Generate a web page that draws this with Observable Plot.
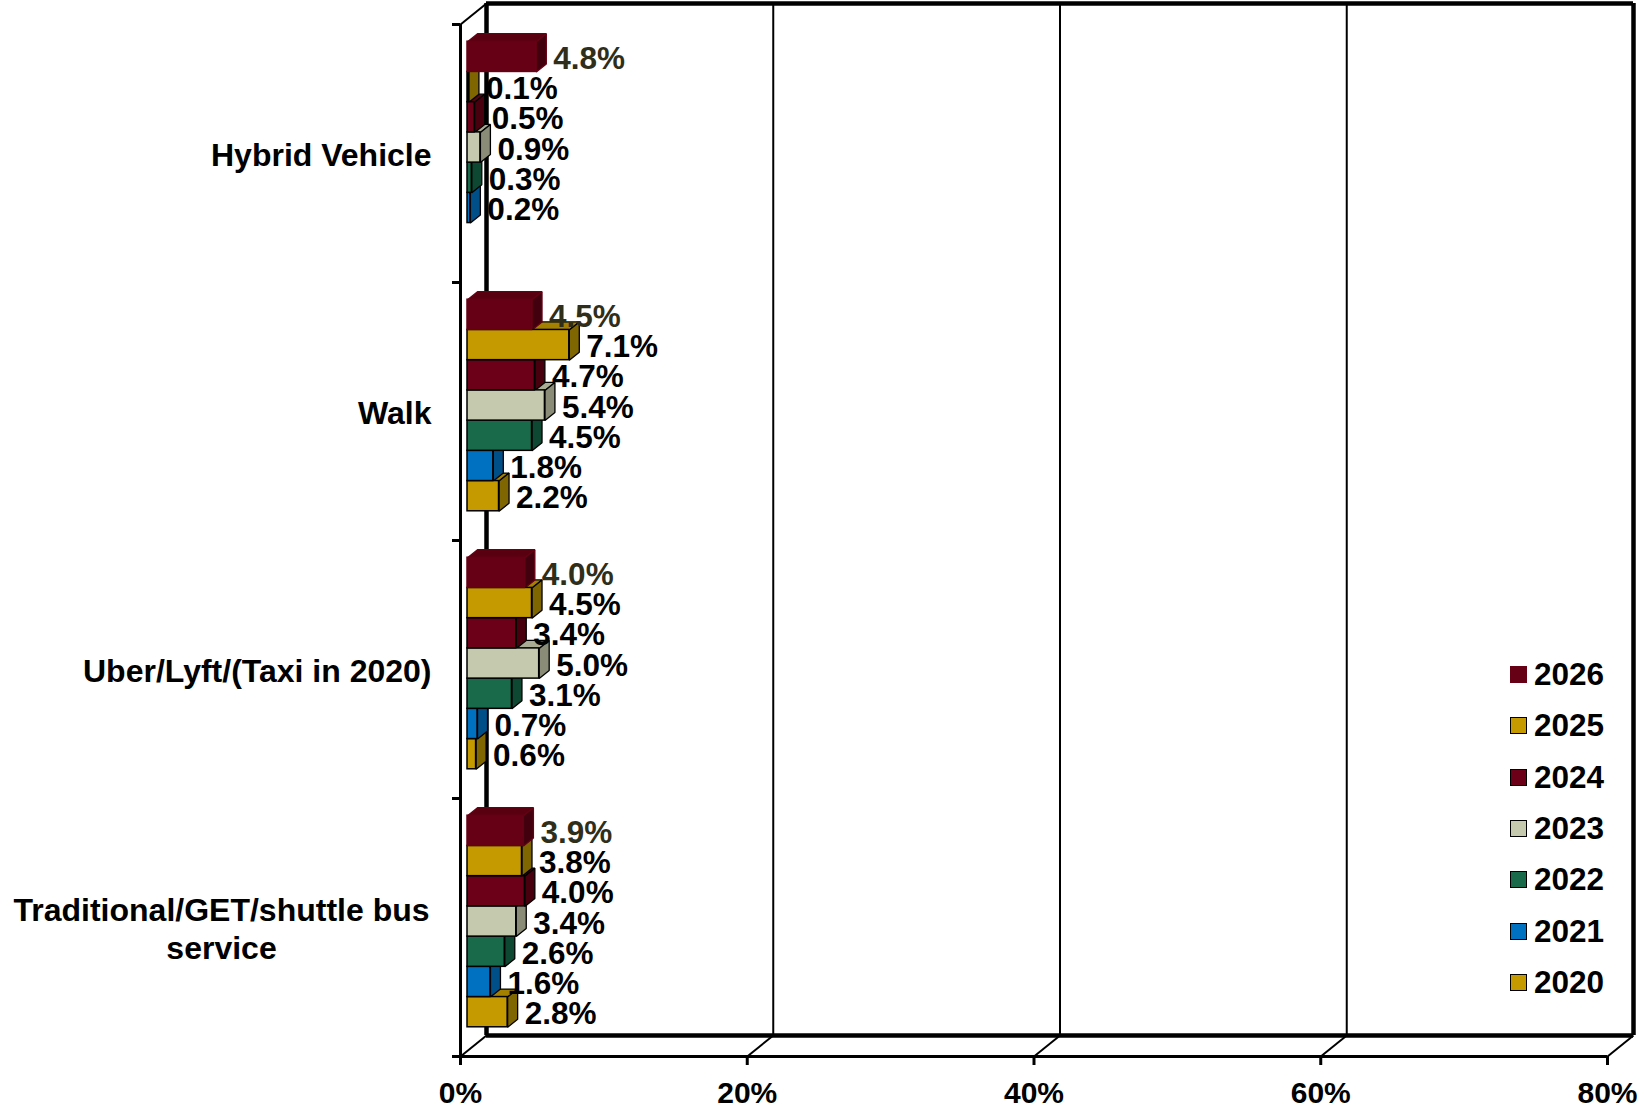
<!DOCTYPE html>
<html>
<head>
<meta charset="utf-8">
<script src="https://cdn.jsdelivr.net/npm/d3@7"></script>
<script src="https://cdn.jsdelivr.net/npm/@observablehq/plot@0.6"></script>
<style>
  html, body { margin: 0; padding: 0; background: #fff; }
  #wrap { position: relative; width: 1650px; height: 1109px; font-family: "Liberation Sans", Arial, sans-serif; }
  #legend { position: absolute; left: 1510px; top: 649px; font-weight: bold; font-size: 31.5px; color: #000; }
  #legend .row { display: flex; align-items: center; height: 51.3px; }
  #legend .sw { width: 15px; height: 15px; border: 1.5px solid #000; margin-right: 7px; }
</style>
</head>
<body>
<div id="wrap"><div id="chart"></div><div id="legend"></div></div>
<script>
// ---- data ----
const categories = ["Hybrid Vehicle", "Walk", "Uber/Lyft/(Taxi in 2020)", "Traditional/GET/shuttle bus\nservice"];
const years = ["2026", "2025", "2024", "2023", "2022", "2021", "2020"];
const v2026 = [4.8, 4.5, 4.0, 3.9];
const v2025 = [0.1, 7.1, 4.5, 3.8];
const v2024 = [0.5, 4.7, 3.4, 4.0];
const v2023 = [0.9, 5.4, 5.0, 3.4];
const v2022 = [0.3, 4.5, 3.1, 2.6];
const v2021 = [0.2, 1.8, 0.7, 1.6];
const v2020 = [null, 2.2, 0.6, 2.8];
const xTicks = [0, 20, 40, 60, 80];

// ---- styles ----
const seriesValues = [v2026, v2025, v2024, v2023, v2022, v2021, v2020];
const front = ["#650015", "#c49a00", "#6b0018", "#c5c9ad", "#196a4b", "#0070c0", "#c49a00"];
const side  = ["#42000e", "#806600", "#48000f", "#8a8c77", "#0f4832", "#004f88", "#806600"];
const top_  = ["#58000f", "#a38000", "#5a0014", "#a9ac93", "#145a3f", "#005fa2", "#a38000"];
const edge  = ["#650015", "#000", "#000", "#000", "#000", "#000", "#000"];

// layout
const X0 = 460, X80 = 1607, YT = 24, YB = 1056;
const ppx = (X80 - X0) / 80, ppy = (YB - YT) / 4;
const wallDX = 26, wallDY = -21;        // back wall depth (px)
const barDX = 10, barDY = -8;           // bar depth (px)
const barOX = 7, barOY = -6;            // bar position within depth (px)
const pad = 0.09, slotH = (1 - 2 * pad) / 7;

const bdx = barDX / ppx, bdy = barDY / ppy;

const rows = [];
categories.forEach((c, i) => {
  years.forEach((yr, j) => {
    const v = seriesValues[j][i];
    if (v == null) return;
    const y1 = i + pad + j * slotH;
    rows.push({i, j, yr, v, y1, y2: y1 + slotH, yc: y1 + slotH / 2});
  });
});
rows.sort((a, b) => b.j - a.j); // bottom bars drawn first

const topPts = [], sidePts = [];
rows.forEach((d, k) => {
  const id = k;
  topPts.push(
    {id, j: d.j, x: 0, y: d.y1},
    {id, j: d.j, x: d.v, y: d.y1},
    {id, j: d.j, x: d.v + bdx, y: d.y1 + bdy},
    {id, j: d.j, x: bdx, y: d.y1 + bdy});
  sidePts.push(
    {id, j: d.j, x: d.v, y: d.y1},
    {id, j: d.j, x: d.v, y: d.y2},
    {id, j: d.j, x: d.v + bdx, y: d.y2 + bdy},
    {id, j: d.j, x: d.v + bdx, y: d.y1 + bdy});
});

const wdx = wallDX / ppx, wdy = wallDY / ppy;
const diag = [
  {x1: 0, y1: 0, x2: wdx, y2: wdy},
  ...xTicks.map(t => ({x1: t, y1: 4, x2: t + wdx, y2: 4 + wdy}))
];

const catRows = categories.map((c, i) => ({c, i, y: i + 0.5, multi: c.includes("\n")}));

const chart = Plot.plot({
  width: 1650,
  height: 1109,
  marginLeft: X0, marginRight: 1650 - X80, marginTop: YT, marginBottom: 1109 - YB,
  x: {domain: [0, 80], range: [X0, X80]},
  y: {domain: [0, 4], range: [YT, YB]},
  color: {type: "identity"},
  style: {fontFamily: "'Liberation Sans', Arial, sans-serif", fontWeight: "bold", fontSize: "31px", background: "#fff", color: "#000", overflow: "visible"},
  marks: [
    // back wall
    Plot.ruleX([20, 40, 60], {x: d => d, y1: 0, y2: 4, dx: wallDX, dy: wallDY, stroke: "#000", strokeWidth: 2}),
    Plot.ruleX([0, 80], {x: d => d, y1: 0, y2: 4, dx: wallDX, dy: wallDY, stroke: "#000", strokeWidth: 4.5}),
    Plot.ruleY([0, 4], {y: d => d, x1: 0, x2: 80, dx: wallDX, dy: wallDY, stroke: "#000", strokeWidth: 4.5}),
    // depth connectors
    Plot.link(diag, {x1: "x1", y1: "y1", x2: "x2", y2: "y2", stroke: "#000", strokeWidth: 2}),
    // front axes
    Plot.ruleX([0], {y1: 0, y2: 4, stroke: "#000", strokeWidth: 3}),
    Plot.ruleY([4], {x1: 0, x2: 80, stroke: "#000", strokeWidth: 3}),
    Plot.axisY({ticks: [0, 1, 2, 3, 4], tickSize: 8, tickFormat: () => "", label: null, strokeWidth: 3}),
    Plot.axisX({ticks: xTicks, tickSize: 9, tickPadding: 16, tickFormat: d => d + "%", label: null,
      strokeWidth: 3, fontSize: 30, fontWeight: "bold"}),
    // bars: top faces, side faces, front faces
    Plot.line(topPts, {x: "x", y: "y", z: "id", curve: "linear-closed", fill: d => top_[d.j], stroke: d => edge[d.j],
      strokeWidth: 1.3, strokeLinejoin: "miter", dx: barOX, dy: barOY}),
    Plot.line(sidePts, {x: "x", y: "y", z: "id", curve: "linear-closed", fill: d => side[d.j], stroke: d => edge[d.j],
      strokeWidth: 1.3, strokeLinejoin: "miter", dx: barOX, dy: barOY}),
    Plot.rect(rows, {x1: 0, x2: "v", y1: "y1", y2: "y2", fill: d => front[d.j], stroke: d => edge[d.j],
      strokeWidth: 1.5, dx: barOX, dy: barOY}),
    // value labels
    Plot.text(rows, {x: "v", y: "yc", text: d => d.v.toFixed(1) + "%", textAnchor: "start", dx: 24, dy: -4,
      fill: d => d.j === 0 ? "#2f2e1a" : "#000", fontSize: 31.5, fontWeight: "bold"}),
    // category labels
    Plot.text(catRows.filter(d => !d.multi), {x: 0, y: "y", text: "c", textAnchor: "end", dx: -29, dy: 2,
      fontSize: 32, fontWeight: "bold", fill: "#000"}),
    Plot.text(catRows.filter(d => d.multi), {x: 0, y: "y", text: "c", textAnchor: "middle", dx: -239, dy: 0,
      lineHeight: 1.2, fontSize: 32, fontWeight: "bold", fill: "#000"})
  ]
});
document.getElementById("chart").appendChild(chart);

// legend (HTML)
const legend = document.getElementById("legend");
years.forEach((yr, j) => {
  const row = document.createElement("div");
  row.className = "row";
  const sw = document.createElement("div");
  sw.className = "sw";
  sw.style.background = front[j];
  if (j === 0) sw.style.borderColor = front[j];
  const t = document.createElement("span");
  t.textContent = yr;
  row.appendChild(sw);
  row.appendChild(t);
  legend.appendChild(row);
});
</script>
</body>
</html>
